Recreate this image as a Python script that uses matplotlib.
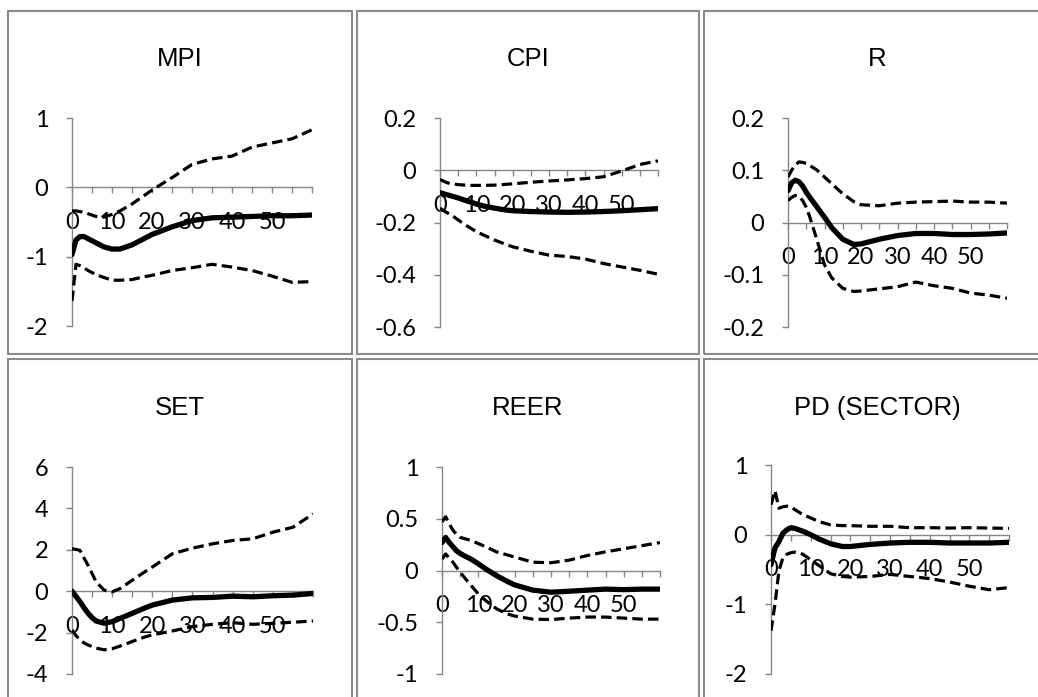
import matplotlib
matplotlib.use("Agg")
import matplotlib.pyplot as plt
from matplotlib.patches import Rectangle

steps = [0, 1, 2, 3, 4, 5, 6, 8, 10, 12, 15, 18, 20, 25, 30, 35, 40, 45, 50, 55, 60]

mpi_mid = [-0.97, -0.76, -0.71, -0.71, -0.74, -0.77, -0.80, -0.86, -0.89, -0.89, -0.83,
           -0.74, -0.68, -0.57, -0.48, -0.44, -0.43, -0.42, -0.41, -0.41, -0.40]
mpi_up = [-0.34, -0.34, -0.35, -0.36, -0.38, -0.40, -0.42, -0.43, -0.39, -0.34, -0.24,
          -0.12, -0.04, 0.14, 0.33, 0.41, 0.45, 0.58, 0.64, 0.70, 0.83]
mpi_lo = [-1.64, -1.11, -1.13, -1.16, -1.20, -1.23, -1.26, -1.30, -1.34, -1.34, -1.33,
          -1.29, -1.27, -1.20, -1.16, -1.11, -1.15, -1.20, -1.28, -1.37, -1.36]

cpi_mid = [-0.086, -0.090, -0.094, -0.098, -0.102, -0.106, -0.111, -0.120, -0.129, -0.137, -0.145,
           -0.152, -0.155, -0.158, -0.160, -0.161, -0.160, -0.158, -0.155, -0.151, -0.147]
cpi_up = [-0.035, -0.042, -0.048, -0.051, -0.053, -0.055, -0.056, -0.058, -0.058, -0.058, -0.057,
          -0.054, -0.052, -0.046, -0.041, -0.037, -0.032, -0.025, -0.003, 0.022, 0.036]
cpi_lo = [-0.145, -0.155, -0.163, -0.170, -0.180, -0.190, -0.200, -0.218, -0.235, -0.248, -0.267,
          -0.283, -0.293, -0.310, -0.325, -0.330, -0.340, -0.357, -0.370, -0.383, -0.398]

r_mid = [0.061, 0.076, 0.081, 0.078, 0.070, 0.058, 0.048, 0.029, 0.010, -0.010, -0.032,
         -0.042, -0.041, -0.032, -0.025, -0.021, -0.021, -0.023, -0.023, -0.022, -0.020]
r_up = [0.087, 0.100, 0.110, 0.116, 0.115, 0.113, 0.109, 0.100, 0.087, 0.074, 0.055,
        0.040, 0.034, 0.032, 0.037, 0.039, 0.040, 0.041, 0.039, 0.039, 0.037]
r_lo = [0.042, 0.048, 0.052, 0.050, 0.042, 0.029, 0.010, -0.035, -0.081, -0.106, -0.126,
        -0.132, -0.131, -0.127, -0.123, -0.114, -0.121, -0.126, -0.135, -0.139, -0.145]

set_mid = [0.0, -0.25, -0.51, -0.80, -1.07, -1.28, -1.44, -1.55, -1.47, -1.31, -1.07,
           -0.82, -0.67, -0.43, -0.32, -0.30, -0.24, -0.27, -0.22, -0.19, -0.11]
set_up = [2.05, 2.02, 1.97, 1.60, 1.25, 0.85, 0.45, 0.05, -0.03, 0.13, 0.53,
          0.92, 1.17, 1.81, 2.08, 2.29, 2.45, 2.53, 2.85, 3.09, 3.73]
set_lo = [-1.87, -2.15, -2.35, -2.50, -2.60, -2.67, -2.75, -2.83, -2.78, -2.65, -2.43,
          -2.22, -2.11, -1.92, -1.71, -1.60, -1.52, -1.60, -1.55, -1.50, -1.44]

reer_mid = [0.27, 0.32, 0.27, 0.23, 0.19, 0.165, 0.145, 0.11, 0.065, 0.016, -0.05,
            -0.106, -0.139, -0.19, -0.21, -0.20, -0.19, -0.18, -0.185, -0.18, -0.18]
reer_up = [0.47, 0.52, 0.45, 0.39, 0.35, 0.32, 0.31, 0.29, 0.26, 0.23, 0.18,
           0.15, 0.13, 0.08, 0.075, 0.10, 0.145, 0.18, 0.21, 0.24, 0.27]
reer_lo = [0.11, 0.16, 0.12, 0.08, 0.03, -0.016, -0.06, -0.145, -0.226, -0.29, -0.37,
           -0.42, -0.44, -0.47, -0.474, -0.46, -0.45, -0.45, -0.46, -0.47, -0.47]

pd_mid = [-0.43, -0.19, -0.10, 0.02, 0.07, 0.10, 0.09, 0.05, 0.0, -0.06, -0.13,
          -0.17, -0.17, -0.14, -0.12, -0.11, -0.11, -0.12, -0.12, -0.12, -0.11]
pd_up = [0.43, 0.63, 0.38, 0.40, 0.41, 0.40, 0.36, 0.29, 0.24, 0.19, 0.14,
         0.13, 0.13, 0.12, 0.12, 0.10, 0.10, 0.095, 0.10, 0.095, 0.09]
pd_lo = [-1.38, -1.00, -0.52, -0.33, -0.28, -0.26, -0.25, -0.28, -0.36, -0.44, -0.56,
         -0.60, -0.61, -0.60, -0.57, -0.60, -0.63, -0.68, -0.74, -0.79, -0.76]

titles = ["MPI", "CPI", "R", "SET", "REER", "PD (SECTOR)"]
yticks = [[1, 0, -1, -2], [0.2, 0, -0.2, -0.4, -0.6], [0.2, 0.1, 0, -0.1, -0.2],
          [6, 4, 2, 0, -2, -4], [1, 0.5, 0, -0.5, -1], [1, 0, -1, -2]]
series = [(mpi_mid, mpi_up, mpi_lo), (cpi_mid, cpi_up, cpi_lo), (r_mid, r_up, r_lo),
          (set_mid, set_up, set_lo), (reer_mid, reer_up, reer_lo), (pd_mid, pd_up, pd_lo)]

W, H = 1038, 697
fig = plt.figure(figsize=(W / 100, H / 100), dpi=100)

# panel frames (pixels, top-left origin): x0, y0, x1, y1
panels = [(7.5, 10.5, 351.5, 354), (356.5, 10.5, 699, 354), (704, 10.5, 1050, 354),
          (7.5, 359, 351.5, 710), (356.5, 359, 699, 710), (704, 359, 1050, 710)]
# plot areas (pixels): left, right, top, bottom
areas = [(72, 312, 118, 326), (440, 658, 118, 327), (788, 1007, 118, 327),
         (72, 313, 467, 674), (442, 660, 467, 674), (771, 1009, 465, 674)]

grey = "#868686"
for i in range(6):
    x0, y0, x1, y1 = panels[i]
    fig.add_artist(Rectangle((x0 / W, 1 - y1 / H), (x1 - x0) / W, (y1 - y0) / H,
                             transform=fig.transFigure, fill=False, edgecolor="#8a8a8a", lw=1.5))
    fig.text((x0 + x1) / 2 / W, 1 - (y0 + 49) / H, titles[i], ha="center", va="center",
             fontsize=18.5, family="Liberation Sans")

    l, r, t, b = areas[i]
    ax = fig.add_axes([l / W, 1 - b / H, (r - l) / W, (b - t) / H])
    mid, up, lo = series[i]
    ax.plot(steps, up, color="black", lw=2.3, dashes=(3.3, 1.6), zorder=3)
    ax.plot(steps, lo, color="black", lw=2.3, dashes=(3.3, 1.6), zorder=3)
    ax.plot(steps, mid, color="black", lw=3.8, solid_capstyle="round", zorder=4)

    yt = yticks[i]
    ax.set_ylim(min(yt), max(yt))
    ax.set_xlim(0, 60)
    ax.set_yticks(yt)
    ax.set_yticklabels([("%g" % v) for v in yt])
    xt = list(range(0, 61, 5))
    ax.set_xticks(xt)
    ax.set_xticklabels([str(v) if v % 10 == 0 and v < 60 else "" for v in xt])

    for s in ["top", "right"]:
        ax.spines[s].set_visible(False)
    ax.spines["bottom"].set_position(("data", 0))
    for s in ["left", "bottom"]:
        ax.spines[s].set_color(grey)
        ax.spines[s].set_linewidth(1.0)
    ax.tick_params(axis="y", direction="out", length=4, width=1.0, color=grey, pad=13,
                   labelsize=17)
    ax.tick_params(axis="x", direction="out", length=4.5, width=1.0, color=grey, pad=13,
                   labelsize=17)
    for lab in ax.get_xticklabels() + ax.get_yticklabels():
        lab.set_family("Lato")
    ax.patch.set_visible(False)

fig.savefig("out.png", dpi=100)
